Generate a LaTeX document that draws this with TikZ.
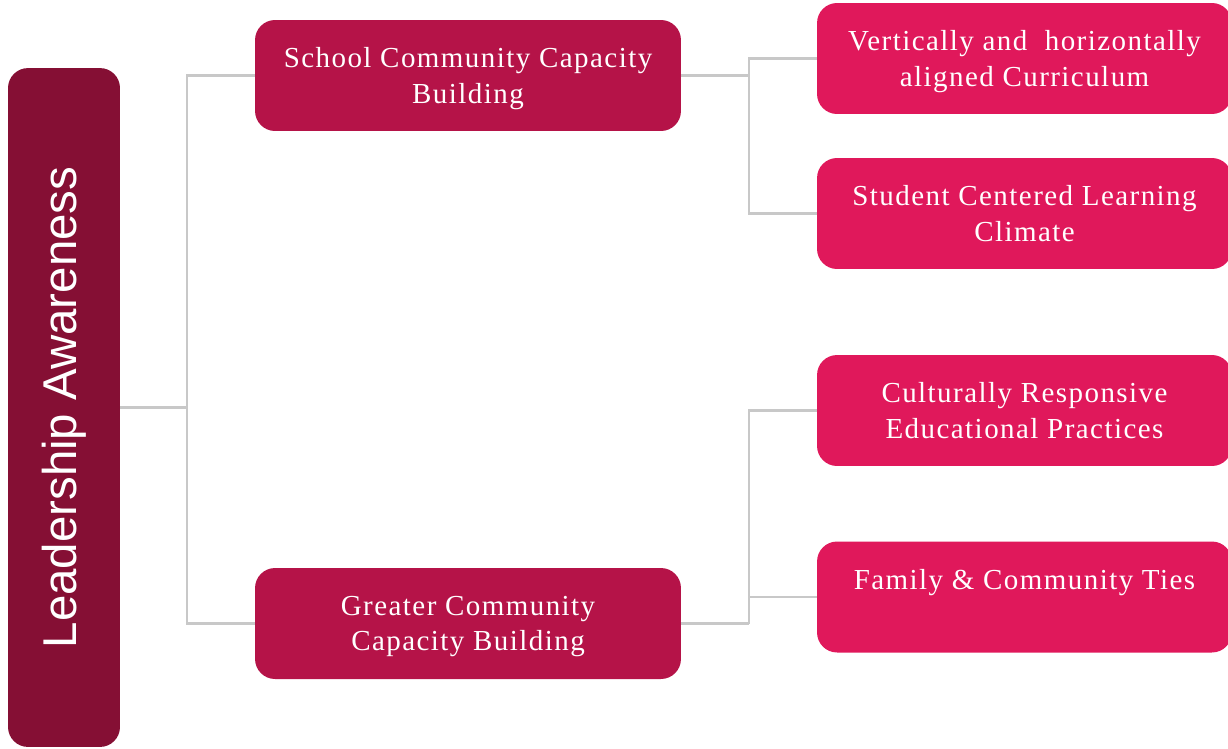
\documentclass[tikz,border=0pt]{standalone}
\usepackage{fontspec}
\setmainfont{Liberation Serif}[LetterSpace=5]
\newfontfamily\headfont{Liberation Sans}
\usetikzlibrary{positioning}

\definecolor{rootred}{RGB}{133,15,52}
\definecolor{midred}{RGB}{181,19,72}
\definecolor{leafred}{RGB}{224,24,91}
\definecolor{linkgray}{RGB}{200,200,200}

\tikzset{
  box/.style={rounded corners=0.4cm, text=white, align=center, inner sep=0pt,
    font=\fontsize{16.5}{20}\selectfont},
  % two-line boxes: push the lines a little down
  midbox/.style={box, fill=midred, minimum width=8.52cm, minimum height=2.22cm, text depth=-2pt},
  leafbox/.style={box, fill=leafred, minimum width=8.3cm, minimum height=2.22cm, text depth=-2pt},
  link/.style={draw=linkgray, line width=1.3pt},
}

\begin{document}
\begin{tikzpicture}[x=0.02cm,y=-0.02cm]
\useasboundingbox (0,0) rectangle (1228,748);
% root column, text reads bottom to top
\node[box, fill=rootred, rotate=90, minimum width=13.58cm, minimum height=2.24cm,
  font=\headfont\fontsize{27}{30}\selectfont] (root) at (64,407.5) {Leadership Awareness};
% second level
\node[midbox] (school) at (468,75.5) {School Community Capacity\\Building};
\node[midbox] (greater) at (468,623.5) {Greater Community\\Capacity Building};
% third level
\node[leafbox] (curric) at (1024.5,58.5) {Vertically and~ horizontally\\aligned Curriculum};
\node[leafbox] (student) at (1024.5,213.5) {Student Centered Learning\\Climate};
\node[leafbox] (cultural) at (1024.5,410.5) {Culturally Responsive\\Educational Practices};
\node[leafbox] (family) at (1024.5,597) {Family \& Community Ties\\\mbox{}};
% elbow links (root.south is its right side, the node is turned)
\draw[link] (root.south) -- ++(67,0) coordinate (j0);
\draw[link] (school.west) -| (j0) |- (greater.west);
\draw[link] (school.east) -- ++(68,0) coordinate (j1);
\draw[link] (curric.west) -| (j1) |- (student.west);
\draw[link] (greater.east) -- ++(68,0) coordinate (j2);
\draw[link] (cultural.west) -| (j2);
\draw[link] (family.west) -- (family.west -| j2);
\end{tikzpicture}
\end{document}
